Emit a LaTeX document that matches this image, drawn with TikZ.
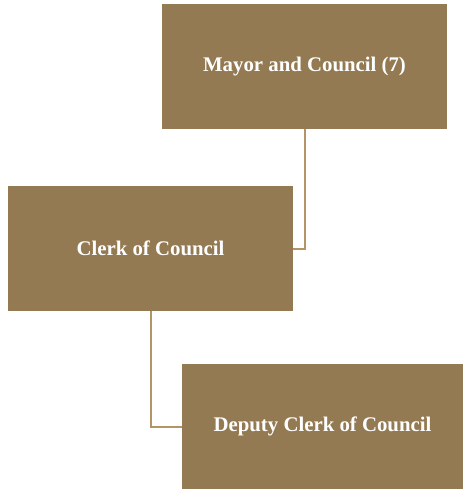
\documentclass[tikz,border=0pt]{standalone}
\usepackage{fontspec}
\setmainfont{Liberation Serif}
\definecolor{boxfill}{HTML}{937A52}
\definecolor{linkcol}{HTML}{B39466}
\begin{document}
\begin{tikzpicture}[x=1pt,y=-1pt,
  orgbox/.style={rectangle,fill=boxfill,draw=none,text=white,font=\bfseries\fontsize{20.8}{24}\selectfont,inner sep=0pt,minimum height=125pt},
  link/.style={draw=linkcol,line width=2pt}]
\useasboundingbox (0,0) rectangle (463,489);
\node[orgbox,minimum width=285pt] (mayor) at (304.5,66.5) {Mayor and Council (7)};
\node[orgbox,minimum width=285pt] (clerk) at (150.5,248.5) {Clerk of Council};
\node[orgbox,minimum width=281pt] (deputy) at (322.5,426.5) {Deputy Clerk of Council};
\draw[link] (mayor.south) |- (clerk.east);
\draw[link] (clerk.south) |- (deputy.west);
\end{tikzpicture}
\end{document}
